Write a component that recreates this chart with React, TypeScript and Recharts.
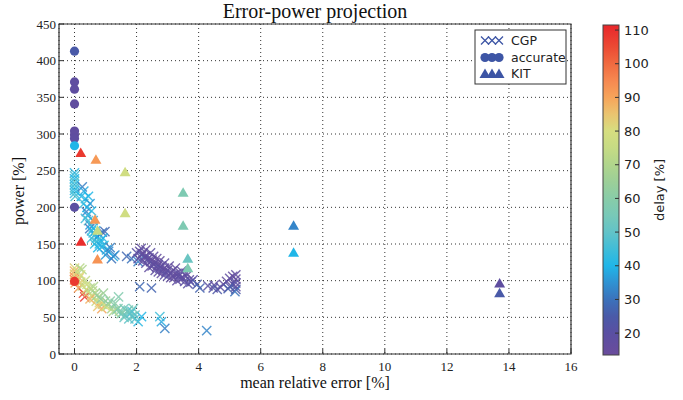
import { ScatterChart, Scatter, XAxis, YAxis, CartesianGrid, ReferenceArea } from "recharts";

const X_TICKS = [0, 2, 4, 6, 8, 10, 12, 14, 16];
const Y_TICKS = [0, 50, 100, 150, 200, 250, 300, 350, 400, 450];
const DELAY_TICKS = [20, 30, 40, 50, 60, 70, 80, 90, 100, 110];

// [mean relative error, power, delay]
const CGP: [number, number, number][] = [
  // upper branch, x = 0 stack
  [0.0, 247, 42], [0.0, 243, 46], [0.0, 239, 40], [0.0, 235, 48], [0.0, 231, 43],
  [0.0, 227, 46], [0.0, 223, 41], [0.0, 219, 44], [0.02, 215, 47],
  // upper branch, descending
  [0.25, 228, 32], [0.3, 222, 38], [0.22, 215, 40], [0.35, 212, 42], [0.3, 205, 45],
  [0.4, 200, 40], [0.38, 194, 32], [0.42, 189, 38], [0.45, 182, 48], [0.5, 176, 35],
  [0.49, 171, 30], [0.55, 168, 40], [0.6, 165, 42], [0.65, 162, 38], [0.7, 158, 45],
  [0.75, 160, 40], [0.8, 163, 35], [0.9, 166, 30], [0.98, 167, 28], [0.92, 158, 42],
  [0.85, 155, 40], [0.71, 153, 48], [0.8, 150, 42], [0.87, 146, 38], [0.95, 148, 44],
  [1.03, 142, 40], [1.1, 140, 35], [1.19, 130, 30], [1.25, 133, 38], [1.3, 135, 33],
  [1.68, 133, 28], [1.84, 130, 30], [2.05, 126, 32],
  [0.45, 215, 40], [0.5, 205, 36], [0.55, 195, 42], [0.35, 185, 45], [0.6, 182, 38],
  [0.55, 158, 46], [0.65, 150, 44], [0.75, 145, 40], [1.0, 135, 36], [1.15, 145, 32],
  [0.6, 172, 44], [0.68, 168, 40],
  // purple band
  [2.0, 138, 20], [2.1, 140, 18], [2.15, 135, 22], [2.2, 137, 16], [2.25, 132, 19],
  [2.3, 134, 15], [2.35, 129, 20], [2.4, 131, 17], [2.45, 126, 18], [2.5, 128, 16],
  [2.55, 122, 20], [2.6, 125, 15], [2.65, 119, 18], [2.7, 122, 17], [2.75, 117, 21],
  [2.8, 120, 16], [2.85, 115, 19], [2.9, 117, 15], [2.95, 112, 18], [3.0, 114, 16],
  [3.1, 110, 20], [3.15, 113, 17], [3.2, 108, 16], [3.3, 110, 18], [3.35, 106, 15],
  [3.4, 108, 19], [3.5, 104, 17], [3.6, 106, 16], [3.7, 101, 18], [3.75, 98, 22],
  [2.4, 118, 17], [2.6, 114, 18], [2.8, 110, 16], [3.0, 106, 19], [3.2, 104, 16],
  [3.4, 102, 18], [3.82, 101, 20],
  [2.05, 130, 19], [2.2, 127, 17], [2.3, 124, 18], [2.15, 144, 18], [2.3, 142, 16],
  [2.45, 138, 19], [2.55, 133, 17], [2.65, 130, 16], [2.5, 120, 18], [2.7, 112, 17],
  [2.9, 108, 19], [3.1, 104, 16], [3.3, 100, 18], [2.75, 127, 16], [2.9, 124, 18],
  [3.05, 120, 17], [3.25, 117, 16], [3.45, 113, 18], [3.6, 110, 17], [3.55, 99, 19],
  [3.65, 96, 20],
  [3.95, 95, 25], [4.04, 90, 27], [4.3, 93, 20], [4.47, 90, 22], [4.5, 94, 18],
  [4.6, 88, 24], [4.7, 91, 20], [4.8, 95, 17], [4.9, 99, 16], [5.0, 103, 18],
  [5.1, 106, 15], [5.2, 108, 17], [5.2, 102, 16], [5.2, 97, 20], [5.2, 92, 18],
  [5.2, 88, 24], [5.17, 85, 30], [5.1, 95, 19], [5.0, 92, 22], [4.95, 89, 26],
  // blue / cyan outliers
  [2.1, 92, 28], [2.48, 90, 27], [4.26, 32, 33],
  [2.05, 44, 42], [2.16, 51, 40], [2.75, 51, 45], [2.8, 44, 38], [2.91, 35, 32],
  // lower branch, x = 0 stack
  [0.0, 117, 82], [0.0, 113, 88], [0.0, 109, 85], [0.0, 105, 92], [0.0, 101, 95], [0.02, 97, 90],
  // lower branch, descending
  [0.1, 112, 78], [0.24, 115, 70], [0.17, 117, 72], [0.15, 104, 85], [0.2, 98, 82],
  [0.13, 90, 92], [0.25, 93, 76], [0.29, 83, 105], [0.33, 78, 108], [0.38, 88, 80],
  [0.45, 85, 75], [0.5, 90, 72], [0.61, 92, 70], [0.55, 80, 78], [0.67, 83, 68],
  [0.62, 76, 82], [0.7, 72, 75], [0.78, 78, 70], [0.8, 70, 80], [0.88, 62, 90],
  [0.93, 83, 65], [0.9, 68, 72], [1.0, 72, 66], [1.05, 65, 74], [1.1, 68, 62],
  [1.2, 62, 68], [1.31, 69, 60], [1.42, 78, 58], [1.35, 60, 62], [1.45, 58, 58],
  [1.55, 56, 56], [1.63, 53, 55], [1.7, 58, 52], [1.74, 60, 55], [1.8, 55, 50],
  [1.85, 51, 54], [1.9, 62, 55], [1.95, 53, 52], [1.6, 62, 54], [1.5, 55, 60], [1.75, 48, 50],
  [0.1, 100, 84], [0.2, 108, 80], [0.35, 100, 74], [0.4, 95, 78], [0.5, 75, 88],
  [0.58, 86, 72], [0.72, 80, 66], [0.85, 75, 62], [1.0, 65, 80], [1.15, 72, 60],
  [1.25, 58, 70], [1.4, 62, 58], [1.6, 50, 52], [1.85, 58, 48], [1.95, 48, 48], [0.75, 65, 85],
];

const ACCURATE: [number, number, number][] = [
  [0, 413, 25], [0, 371, 18], [0, 361, 18], [0, 341, 17], [0, 304, 17],
  [0, 299, 17], [0, 294, 18], [0, 284, 40], [0, 200, 20], [0, 99, 108],
];

const KIT: [number, number, number][] = [
  [0.2, 274, 108], [0.69, 265, 92], [1.63, 248, 78], [1.63, 192, 78], [0.66, 183, 92],
  [0.74, 168, 75], [0.21, 153, 110], [0.74, 129, 93],
  [3.5, 220, 57], [3.5, 175, 57], [3.65, 130, 52], [3.65, 117, 57],
  [7.06, 175, 33], [7.06, 138, 40], [13.7, 96, 18], [13.7, 83, 25],
];

const DELAY_MIN = 13.5;
const DELAY_MAX = 111.5;

const COLOR_STOPS: [number, string][] = [
  [13.5, "#6a4c9c"], [20, "#5a4fa2"], [25, "#4a5aa8"], [30, "#3b72bb"], [35, "#2f92d2"],
  [40, "#20b6e8"], [45, "#40bdd8"], [50, "#62c3c8"], [55, "#78c9b8"], [60, "#88cca8"],
  [65, "#9ccf98"], [70, "#b0d58c"], [75, "#c6db84"], [80, "#d6de80"], [85, "#eac470"],
  [90, "#f6a45a"], [95, "#f68850"], [100, "#f06a40"], [105, "#ec4a34"], [111.5, "#e8262a"],
];

const hex = (s: string) => [1, 3, 5].map((i) => parseInt(s.slice(i, i + 2), 16));

function delayColor(v: number) {
  for (let i = 1; i < COLOR_STOPS.length; i++) {
    const [v1, c1] = COLOR_STOPS[i];
    if (v <= v1) {
      const [v0, c0] = COLOR_STOPS[i - 1];
      const t = Math.max(0, (v - v0) / (v1 - v0));
      const a = hex(c0);
      const b = hex(c1);
      return `rgb(${a.map((x, k) => Math.round(x + (b[k] - x) * t)).join(",")})`;
    }
  }
  return COLOR_STOPS[COLOR_STOPS.length - 1][1];
}

const toRows = (arr: [number, number, number][]) => arr.map(([x, y, d]) => ({ x, y, d }));

const crossPath = (cx: number, cy: number, s: number) =>
  `M${cx - s},${cy - s}L${cx + s},${cy + s}M${cx - s},${cy + s}L${cx + s},${cy - s}`;
const triPath = (cx: number, cy: number) =>
  `M${cx},${cy - 5.5}L${cx + 5.5},${cy + 4}L${cx - 5.5},${cy + 4}Z`;

const CrossShape = (p: any) => (
  <path d={crossPath(p.cx, p.cy, 4.6)} stroke={delayColor(p.payload.d)} strokeWidth={1.4} fill="none" opacity={0.85} />
);
const CircleShape = (p: any) => <circle cx={p.cx} cy={p.cy} r={4.6} fill={delayColor(p.payload.d)} />;
const TriShape = (p: any) => <path d={triPath(p.cx, p.cy)} fill={delayColor(p.payload.d)} />;

const serif = "Liberation Serif, Times New Roman, Times, serif";
const sans = "DejaVu Sans, sans-serif";
const LEGEND_BLUE = "#3d55a5";
const TICK_LINE = { stroke: "#333", strokeWidth: 1 };

// colorbar geometry
const CB = { x: 603, y: 25, w: 16, h: 330 };
const cbY = (v: number) => CB.y + CB.h - ((v - DELAY_MIN) / (DELAY_MAX - DELAY_MIN)) * CB.h;

export default function App() {
  return (
    <div style={{ position: "absolute", left: 0, top: 0, width: 683, height: 400, background: "#fff" }}>
      <ScatterChart width={683} height={400} margin={{ top: 24, right: 112, bottom: 0, left: 0 }}>
        <CartesianGrid stroke="#333" strokeDasharray="1 3" />
        <XAxis
          type="number"
          dataKey="x"
          domain={[-0.5, 16]}
          ticks={X_TICKS}
          allowDataOverflow
          height={46}
          axisLine={false}
          tickLine={TICK_LINE}
          tickSize={-5}
          tickMargin={13}
          tick={{ fontSize: 13, fill: "#222", fontFamily: serif }}
        />
        <XAxis
          xAxisId="top"
          orientation="top"
          type="number"
          domain={[-0.5, 16]}
          ticks={X_TICKS}
          allowDataOverflow
          height={0}
          axisLine={false}
          tickLine={TICK_LINE}
          tickSize={-5}
          tick={false}
        />
        <YAxis
          type="number"
          dataKey="y"
          domain={[0, 450]}
          ticks={Y_TICKS}
          width={59}
          axisLine={false}
          tickLine={TICK_LINE}
          tickSize={-5}
          tickMargin={8}
          tick={{ fontSize: 13, fill: "#222", fontFamily: serif }}
        />
        <YAxis
          yAxisId="right"
          orientation="right"
          type="number"
          domain={[0, 450]}
          ticks={Y_TICKS}
          width={0}
          axisLine={false}
          tickLine={TICK_LINE}
          tickSize={-5}
          tick={false}
        />
        <ReferenceArea x1={-0.5} x2={16} y1={0} y2={450} fill="none" stroke="#333" strokeWidth={1.2} ifOverflow="extendDomain" />
        <Scatter name="CGP" data={toRows(CGP)} shape={CrossShape} isAnimationActive={false} />
        <Scatter name="accurate" data={toRows(ACCURATE)} shape={CircleShape} isAnimationActive={false} />
        <Scatter name="KIT" data={toRows(KIT)} shape={TriShape} isAnimationActive={false} />
      </ScatterChart>

      <svg width={683} height={400} style={{ position: "absolute", left: 0, top: 0, pointerEvents: "none" }}>
        <defs>
          <linearGradient id="cbGrad" x1="0" y1="1" x2="0" y2="0">
            {COLOR_STOPS.map(([v, c]) => (
              <stop key={v} offset={(v - DELAY_MIN) / (DELAY_MAX - DELAY_MIN)} stopColor={c} />
            ))}
          </linearGradient>
        </defs>

        <text x={315} y={18} textAnchor="middle" fontFamily={serif} fontSize={20} fill="#111">
          Error-power projection
        </text>
        <text x={315} y={388} textAnchor="middle" fontFamily={serif} fontSize={16} fill="#111">
          mean relative error [%]
        </text>
        <text x={24} y={191} textAnchor="middle" fontFamily={serif} fontSize={16} fill="#111" transform="rotate(-90 24 191)">
          power [%]
        </text>

        {/* legend */}
        <rect x={475} y={30} width={91} height={54} fill="#fff" stroke="#333" strokeWidth={1} />
        {[481, 488, 495].map((x) => (
          <path key={"c" + x} d={crossPath(x + 4, 40.5, 4)} stroke={LEGEND_BLUE} strokeWidth={1.3} fill="none" />
        ))}
        {[485, 492, 499].map((x) => (
          <circle key={"o" + x} cx={x} cy={57.5} r={4.6} fill={LEGEND_BLUE} />
        ))}
        {[485, 492, 499].map((x) => (
          <path key={"t" + x} d={triPath(x, 74)} fill={LEGEND_BLUE} />
        ))}
        {["CGP", "accurate", "KIT"].map((t, i) => (
          <text key={t} x={511} y={45 + i * 16.5} fontFamily={sans} fontSize={12.5} fill="#222">
            {t}
          </text>
        ))}

        {/* colorbar */}
        <rect x={CB.x} y={CB.y} width={CB.w} height={CB.h} fill="url(#cbGrad)" stroke="#444" strokeWidth={1} />
        {DELAY_TICKS.map((v) => (
          <g key={v}>
            <line x1={CB.x + CB.w - 4} x2={CB.x + CB.w} y1={cbY(v)} y2={cbY(v)} stroke="#333" />
            <text x={CB.x + CB.w + 5} y={cbY(v) + 4.5} fontFamily={sans} fontSize={13} fill="#222">
              {v}
            </text>
          </g>
        ))}
        <text x={664} y={190} textAnchor="middle" fontFamily={sans} fontSize={13} fill="#222" transform="rotate(-90 664 190)">
          delay [%]
        </text>
      </svg>
    </div>
  );
}
